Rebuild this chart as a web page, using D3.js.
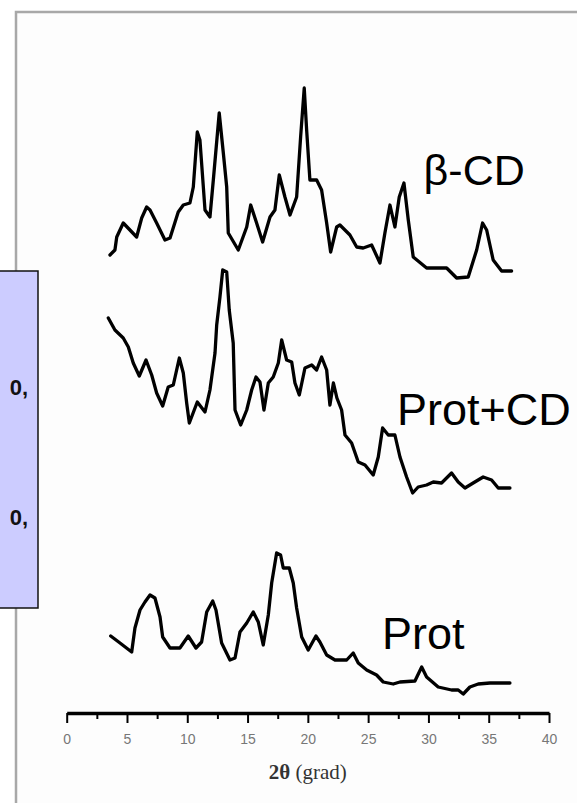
<!DOCTYPE html>
<html>
<head>
<meta charset="utf-8">
<script src="https://cdn.jsdelivr.net/npm/d3@7"></script>
<style>
  html, body { margin: 0; padding: 0; background: #fff; }
  svg { display: block; }
</style>
</head>
<body>
<svg id="chart"></svg>
<script>
// XRD patterns, 2theta in degrees, intensity in arbitrary units (stacked)
const twoTheta_bCD = [3.59,4.00,4.15,4.69,5.80,6.22,6.63,6.91,7.46,8.15,8.57,9.25,9.67,10.22,10.50,10.83,11.05,11.47,11.88,12.16,12.65,12.99,13.27,13.40,14.23,14.93,15.26,15.75,16.25,16.86,17.27,17.63,18.10,18.52,19.07,19.40,19.70,19.90,20.17,20.73,21.14,21.56,21.89,22.39,22.66,23.49,24.05,24.59,25.29,25.98,26.39,26.81,27.22,27.58,27.97,28.33,28.74,29.85,31.51,32.34,33.30,34.00,34.49,34.83,35.37,36.07,36.90];
const int_bCD = [28,33,46,60,46,65,76,73,60,43,45,71,78,80,96,151,143,73,66,103,170,130,96,50,33,56,78,60,41,66,73,108,86,68,86,146,195,153,103,103,93,60,31,56,58,48,36,35,38,20,50,78,56,86,100,63,26,15,15,5,6,33,60,53,23,12,12];

const twoTheta_protCD = [3.45,4.00,4.69,5.11,5.52,6.02,6.58,7.05,7.46,7.96,8.42,8.84,9.34,9.67,9.95,10.17,10.83,11.47,11.88,12.30,12.44,12.71,12.94,13.27,13.48,13.81,13.96,14.43,14.93,15.34,15.70,16.03,16.36,16.72,17.13,17.55,17.83,18.24,18.66,18.93,19.29,19.76,20.32,20.73,21.14,21.56,21.83,22.12,22.41,22.80,23.08,23.63,24.18,24.74,25.42,25.84,26.20,26.67,27.22,27.64,28.19,28.69,29.15,29.85,30.40,31.09,31.92,32.47,33.03,33.71,34.54,35.24,35.79,36.76];
const int_protCD = [180,168,160,151,135,122,138,123,105,92,111,113,140,125,95,75,96,86,108,145,173,201,228,226,188,155,88,73,88,108,121,116,88,115,121,135,158,138,136,115,103,130,133,128,141,128,93,115,100,88,63,55,36,33,23,41,70,63,63,41,21,5,11,13,16,15,25,16,10,15,21,18,10,10];

const twoTheta_prot = [3.65,4.42,5.39,5.66,6.08,6.49,6.91,7.32,7.74,7.96,8.57,9.39,10.08,10.72,11.19,11.61,12.11,12.38,12.85,13.54,13.96,14.37,14.93,15.47,15.89,16.30,16.72,17.00,17.41,17.74,17.96,18.46,18.79,19.07,19.49,20.03,20.67,21.00,21.56,22.25,23.22,23.76,24.18,24.88,25.70,26.25,27.08,27.64,28.88,29.44,29.85,30.81,31.92,32.47,32.89,33.44,34.13,35.10,36.76];
const int_prot = [57,50,41,65,83,91,98,95,76,56,45,45,57,45,51,81,92,83,50,33,35,61,70,81,71,48,78,110,140,138,125,125,110,85,56,43,57,51,38,33,33,40,30,23,18,11,9,11,12,26,16,6,3,3,-1,6,9,10,10];

const seriesNames = ["β-CD", "Prot+CD", "Prot"];
const seriesOffsets = [430, 215, 20];
const labelPos = [[29.6, 98], [27.4, 73], [26.15, 44]]; // [2theta, a.u. above trace baseline]
const labelSizes = [43, 45, 45];

const majorTicks = [0, 5, 10, 15, 20, 25, 30, 35, 40];
const minorTicks = [2.5, 7.5, 12.5, 17.5, 22.5, 27.5, 32.5, 37.5];

const width = 577, height = 803;

const svg = d3.select("#chart")
  .attr("width", width)
  .attr("height", height)
  .style("font-family", "'Liberation Sans', Arial, sans-serif");

// slide frame
svg.append("rect")
  .attr("x", 16).attr("y", 12)
  .attr("width", width + 20).attr("height", height + 20)
  .attr("fill", "#fdfdfd")
  .attr("stroke", "#a8a8a8")
  .attr("stroke-width", 2.5);

// blue callout box partly off the left side
svg.append("rect")
  .attr("x", -10).attr("y", 271)
  .attr("width", 48).attr("height", 337)
  .attr("fill", "#ccccff")
  .attr("stroke", "#111")
  .attr("stroke-width", 1.5);

[395, 525].forEach(function (yy) {
  svg.append("text")
    .attr("x", 28).attr("y", yy)
    .attr("text-anchor", "end")
    .style("font-size", "22px")
    .style("font-weight", "bold")
    .attr("fill", "#111")
    .text("0,");
});

var x = d3.scaleLinear().domain([0, 40]).range([66.7, 549]);
var y = d3.scaleLinear().domain([0, 650]).range([713, 63]);

var series = [
  { x: twoTheta_bCD, v: int_bCD },
  { x: twoTheta_protCD, v: int_protCD },
  { x: twoTheta_prot, v: int_prot }
];

var line = d3.line()
  .x(function (d) { return x(d[0]); })
  .y(function (d) { return y(d[1]); });

series.forEach(function (s, i) {
  var pts = s.x.map(function (t, k) { return [t, s.v[k] + seriesOffsets[i]]; });
  svg.append("path")
    .datum(pts)
    .attr("d", line)
    .attr("fill", "none")
    .attr("stroke", "#000")
    .attr("stroke-width", 3.3)
    .attr("stroke-linejoin", "round")
    .attr("stroke-linecap", "round");

  svg.append("text")
    .attr("x", x(labelPos[i][0]))
    .attr("y", y(labelPos[i][1] + seriesOffsets[i]))
    .style("font-size", labelSizes[i] + "px")
    .attr("fill", "#000")
    .text(seriesNames[i]);
});

// x axis: minor ticks first, then major with labels
var axisY = 713;
svg.append("g")
  .attr("transform", "translate(0," + axisY + ")")
  .call(d3.axisBottom(x).tickValues(minorTicks).tickSize(6).tickSizeOuter(0).tickFormat(""))
  .call(function (g) { g.select(".domain").remove(); })
  .selectAll("line").attr("stroke", "#000").attr("stroke-width", 2);

var ax = svg.append("g")
  .attr("transform", "translate(0," + axisY + ")")
  .call(d3.axisBottom(x).tickValues(majorTicks).tickSize(10).tickSizeOuter(0).tickPadding(11).tickFormat(d3.format("d")));
ax.select(".domain").attr("stroke", "#000").attr("stroke-width", 3.5);
ax.selectAll(".tick line").attr("stroke", "#000").attr("stroke-width", 2);
ax.selectAll(".tick text")
  .attr("fill", "#777")
  .style("font-size", "14px")
  .style("font-family", "'Liberation Sans', Arial, sans-serif");

var title = svg.append("text")
  .attr("x", x(20))
  .attr("y", 779)
  .attr("text-anchor", "middle")
  .style("font-family", "'Liberation Serif', 'Times New Roman', serif")
  .style("font-size", "21px")
  .attr("fill", "#333");
title.append("tspan").style("font-weight", "bold").text("2θ");
title.append("tspan").text(" (grad)");
</script>
</body>
</html>
